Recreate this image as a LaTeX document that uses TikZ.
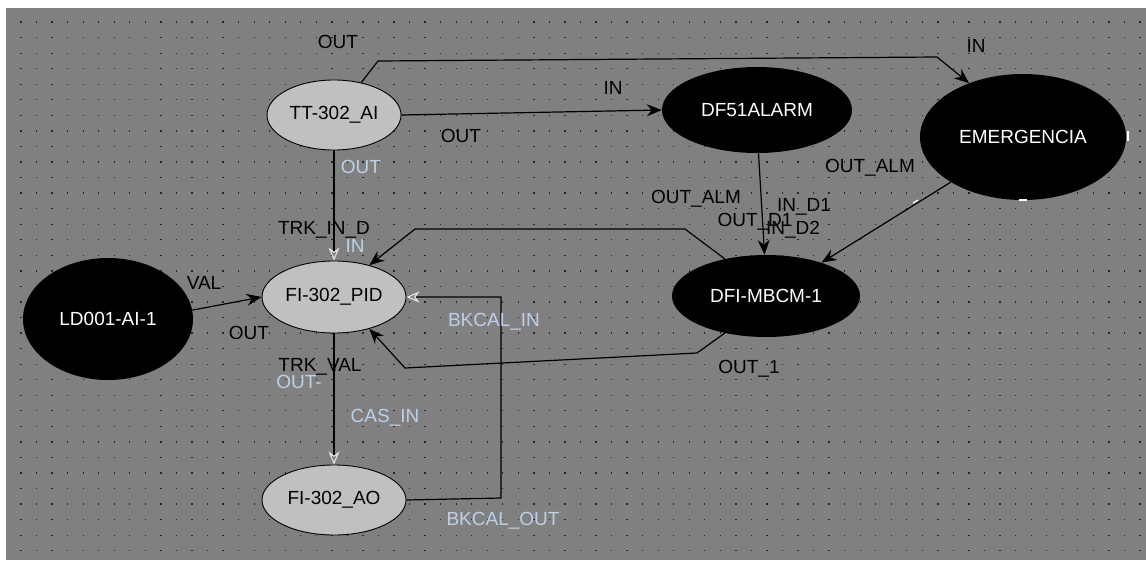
\documentclass[tikz,border=0pt]{standalone}
\usepackage{fontspec}
\setmainfont{Liberation Sans}
\usetikzlibrary{arrows.meta,shapes.geometric}
\definecolor{bg}{RGB}{128,128,128}
\definecolor{lightfill}{RGB}{192,192,192}
\definecolor{portblue}{RGB}{188,208,232}
\definecolor{arrowlight}{RGB}{230,230,230}
\begin{document}
\begin{tikzpicture}[x=1pt,y=-1pt,
  every node/.style={font=\fontsize{19}{21}\selectfont, inner sep=0pt},
  lightblock/.style={ellipse, draw=black, line width=0.9pt, fill=lightfill, text=black},
  darkblock/.style={ellipse, fill=black, text=white},
  lnk/.style={draw=black, line width=1.2pt},
  arr/.style={-{Stealth[length=15pt,width=12pt,inset=5pt]}},
  oarr/.style={-{Stealth[open,length=13pt,width=11pt,inset=4pt,color=arrowlight,line width=1.1pt]}},
  blab/.style={text=black},
  plab/.style={text=portblue}]
\useasboundingbox (0,0) rectangle (1146,560);
\fill[white] (0,0) rectangle (1146,560);
\fill[bg] (6,8) rectangle (1146,560);
\foreach \i in {0,...,72}{
  \foreach \j in {0,...,34}{
    \fill[black!85] ({21+15.54*\i-0.6},{22+15.55*\j-0.6}) rectangle ++(1.3,1.3);
  }
}
% blocks
\node[lightblock, minimum width=134pt, minimum height=70pt] (tt) at (334,115) {TT-302\_AI};
\node[darkblock, minimum width=190pt, minimum height=86pt] (df) at (757,110) {DF51ALARM};
\node[darkblock, minimum width=206pt, minimum height=126pt] (em) at (1023,137) {EMERGENCIA};
\node[lightblock, minimum width=144pt, minimum height=72pt] (pid) at (334,297) {FI-302\_PID};
\node[darkblock, minimum width=170pt, minimum height=122pt] (ld) at (108,319) {LD001-AI-1};
\node[darkblock, minimum width=188pt, minimum height=82pt] (mb) at (766,296) {DFI-MBCM-1};
\node[lightblock, minimum width=144pt, minimum height=70pt] (ao) at (334,500) {FI-302\_AO};
% bend points
\coordinate (c1) at (378,61);
\coordinate (c2) at (937,57);
\coordinate (u1) at (685,229);
\coordinate (u2) at (415,229);
\coordinate (l1) at (697,353);
\coordinate (l2) at (405,368);
\coordinate (b1) at (501,498);
\coordinate (b2) at (501,297);
\coordinate (dot) at (334,370);
% connectors
\draw[lnk,arr] (tt.50) -- (c1) -- (c2) -- (em.135);
\draw[lnk,arr] (tt.east) -- (df.west);
\draw[lnk,oarr] (tt.south) -- (pid.north);
\draw[lnk,arr] (ld.6) -- (pid.west);
\draw[lnk,arr] (df.272) -- (mb.92);
\draw[lnk,arr] (em.212) -- (mb.31);
\draw[lnk,arr] (mb.138) -- (u1) -- (u2) -- (pid.42);
\draw[lnk,arr] (mb.222) -- (l1) -- (l2) -- (pid.318);
\draw[lnk,oarr] (pid.south) -- (ao.north);
\draw[lnk,oarr] (ao.east) -- (b1) -- (b2) -- (pid.east);
\fill[black] (dot) circle (1.8pt);
% small white port marks
\draw[white, line width=1.2pt] (1128,131) -- (1128,141);
\draw[white, line width=1.2pt] (1019,200) -- (1027,200);
\draw[white, line width=1.2pt] (913,203) -- (918,200);
% labels
\node[blab] (l_out1) at (338,42) {OUT};
\node[blab] (l_in1) at (976,46) {IN};
\node[blab] (l_in2) at (613,88) {IN};
\node[blab] (l_out2) at (461,136) {OUT};
\node[plab] (l_out3) at (361,167) {OUT};
\node[blab] (l_trkind) at (324,230) {TRK\_IN\_D};
\node[plab] (l_in3) at (355,246) {IN};
\node[blab] (l_val) at (204,283) {VAL};
\node[blab] (l_out4) at (249,333) {OUT};
\node[blab] (l_trkval) at (320,367) {TRK\_VAL};
\node[plab] (l_out5) at (299,382) {OUT-};
\node[plab] (l_casin) at (385,418) {CAS\_IN};
\node[plab] (l_bkin) at (494,322) {BKCAL\_IN};
\node[plab] (l_bkout) at (503,521) {BKCAL\_OUT};
\node[blab] (l_out1b) at (749,369) {OUT\_1};
\node[blab] (l_alm1) at (696,199) {OUT\_ALM};
\node[blab] (l_alm2) at (870,168) {OUT\_ALM};
\node[blab] (l_ind1) at (804,207) {IN\_D1};
\node[blab] (l_outd1) at (755,222) {OUT\_D1};
\node[blab] (l_ind2) at (793,230) {IN\_D2};
\end{tikzpicture}
\end{document}
